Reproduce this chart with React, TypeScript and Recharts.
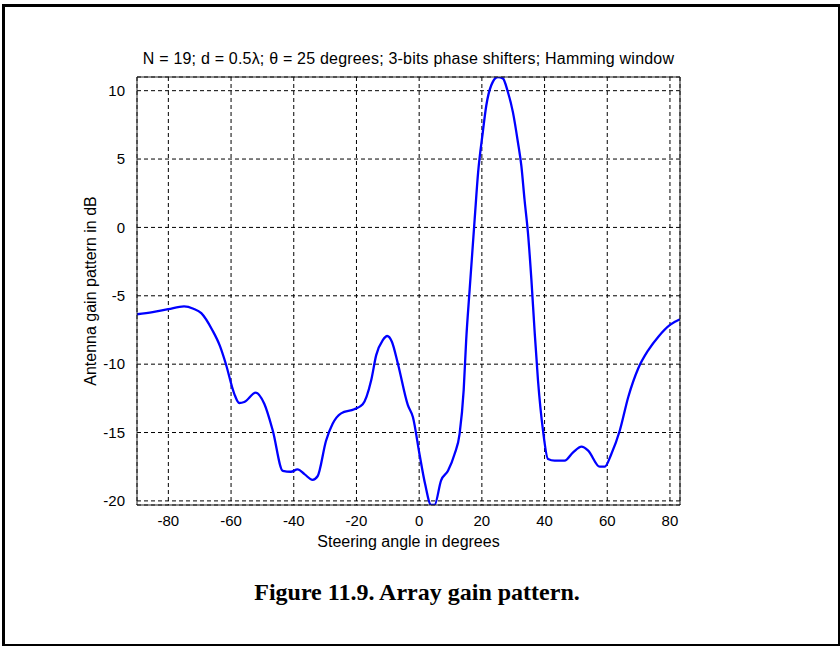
import { LineChart, Line, XAxis, YAxis, CartesianGrid } from 'recharts'

// steering angle (deg) and array gain (dB)
const angles = [
  -90, -85, -80, -75, -72, -69.5, -66, -63.5, -61.7, -59, -57.4, -55.8, -52.1,
  -49.4, -46.7, -43.5, -40.9, -38.8, -36.6, -34, -32.4, -29.7, -27.6, -24.9,
  -20.7, -18, -15.3, -13.7, -11.6, -10.2, -8.7, -6.8, -3.6, -2, 0.1, 1.9, 3.8,
  4.9, 7, 9.2, 11.3, 12.9, 14.2, 15, 16.1, 17.7, 18.8, 20.3, 21.4, 23, 25.1,
  26.7, 28.3, 29.9, 31.5, 32.6, 33.6, 34.7, 35.8, 36.8, 37.9, 39.5, 41.1, 43.2,
  46.4, 49.1, 51.8, 53.9, 57.6, 59.2, 61.3, 64, 66.7, 69.9, 73.1, 76.3, 80, 83.2,
]
const gains = [
  -6.35, -6.2, -5.98, -5.78, -5.95, -6.27, -7.5, -8.7, -9.95, -12.15, -12.84,
  -12.77, -12.08, -12.9, -14.85, -17.8, -17.87, -17.7, -18.04, -18.46, -18.2,
  -15.6, -14.36, -13.6, -13.3, -12.94, -11.18, -9.34, -8.24, -7.94, -8.36,
  -9.95, -13.0, -13.87, -16.57, -18.77, -20.3, -20.3, -18.5, -17.8, -16.57,
  -15.1, -11.9, -8.24, -4.56, 0.59, 4.0, 6.96, 8.9, 10.4, 11.0, 10.9, 9.9,
  8.43, 6.23, 4.5, 2.06, -0.39, -3.82, -7.5, -11.18, -14.85, -16.94, -17.06,
  -17.06, -16.45, -16.03, -16.32, -17.5, -17.5, -16.57, -14.85, -12.4, -10.3,
  -8.97, -7.99, -7.13, -6.72,
]
const xTicks = [-80, -60, -40, -20, 0, 20, 40, 60, 80]
const yTicks = [-20, -15, -10, -5, 0, 5, 10]

const xDomain: [number, number] = [-90, 83.2]
const yDomain: [number, number] = [-20.3, 11.0]

const data = angles.map((a, i) => ({ angle: a, gain: gains[i] }))

const FONT = 'Arial, "Liberation Sans", sans-serif'
const AXIS_COLOR = '#222'
const tickStyle = { fontSize: 15, fill: '#000', fontFamily: FONT }

export default function App() {
  return (
    <div
      style={{
        position: 'absolute',
        left: 0,
        top: 0,
        width: 840,
        height: 646,
        background: '#fff',
      }}
    >
      {/* figure frame */}
      <div
        style={{
          position: 'absolute',
          left: 2,
          top: 4,
          width: 838,
          height: 642,
          boxSizing: 'border-box',
          borderLeft: '3px solid #000',
          borderTop: '3px solid #000',
          borderRight: '2px solid #000',
          borderBottom: '2px solid #000',
        }}
      />
      <div
        style={{
          position: 'absolute',
          left: 137,
          width: 543,
          top: 49,
          textAlign: 'center',
          fontFamily: FONT,
          fontSize: 16,
          letterSpacing: 0.2,
          lineHeight: '20px',
          whiteSpace: 'nowrap',
        }}
      >
        N = 19; d = 0.5λ; θ = 25 degrees; 3-bits phase shifters; Hamming window
      </div>
      <LineChart
        width={840}
        height={646}
        data={data}
        margin={{ top: 77, right: 160, bottom: 111, left: 87 }}
        style={{ position: 'absolute', left: 0, top: 0 }}
      >
        <CartesianGrid stroke="#000" strokeDasharray="4 3" />
        <XAxis
          dataKey="angle"
          type="number"
          domain={xDomain}
          allowDataOverflow
          ticks={xTicks}
          height={30}
          tickSize={0}
          tickMargin={10}
          tick={tickStyle}
          stroke={AXIS_COLOR}
          label={{
            value: 'Steering angle in degrees',
            position: 'insideTop',
            offset: 31,
            style: { fontSize: 16, fill: '#000', fontFamily: FONT },
          }}
        />
        {/* inward ticks on bottom and top edges */}
        <XAxis
          xAxisId="bt"
          dataKey="angle"
          type="number"
          domain={xDomain}
          allowDataOverflow
          ticks={xTicks}
          height={6}
          mirror
          tick={false}
          tickSize={5}
          axisLine={false}
          stroke={AXIS_COLOR}
        />
        <XAxis
          xAxisId="top"
          orientation="top"
          dataKey="angle"
          type="number"
          domain={xDomain}
          allowDataOverflow
          ticks={xTicks}
          height={6}
          mirror
          tick={false}
          tickSize={5}
          stroke={AXIS_COLOR}
        />
        <YAxis
          type="number"
          domain={yDomain}
          allowDataOverflow
          ticks={yTicks}
          width={50}
          tickSize={0}
          tickMargin={12}
          tick={tickStyle}
          stroke={AXIS_COLOR}
          label={{
            value: 'Antenna gain pattern in dB',
            content: ({ viewBox }: any) => {
              const x = viewBox.x + viewBox.width - 47
              const y = viewBox.y + viewBox.height / 2
              return (
                <text
                  x={x}
                  y={y}
                  transform={`rotate(-90, ${x}, ${y})`}
                  textAnchor="middle"
                  dominantBaseline="central"
                  style={{ fontSize: 16, fill: '#000', fontFamily: FONT }}
                >
                  Antenna gain pattern in dB
                </text>
              )
            },
          }}
        />
        <YAxis
          yAxisId="lt"
          type="number"
          domain={yDomain}
          allowDataOverflow
          ticks={yTicks}
          width={6}
          mirror
          tick={false}
          tickSize={5}
          axisLine={false}
          stroke={AXIS_COLOR}
        />
        <YAxis
          yAxisId="right"
          orientation="right"
          type="number"
          domain={yDomain}
          allowDataOverflow
          ticks={yTicks}
          width={6}
          mirror
          tick={false}
          tickSize={5}
          stroke={AXIS_COLOR}
        />
        <Line
          dataKey="gain"
          type="monotone"
          stroke="#0000ff"
          strokeWidth={2.3}
          dot={false}
          isAnimationActive={false}
        />
      </LineChart>
      <div
        style={{
          position: 'absolute',
          left: 0,
          width: 834,
          top: 577,
          textAlign: 'center',
          fontFamily: '"Times New Roman", "Liberation Serif", serif',
          fontWeight: 'bold',
          fontSize: 24,
          lineHeight: '30px',
          whiteSpace: 'nowrap',
        }}
      >
        Figure 11.9. Array gain pattern.
      </div>
    </div>
  )
}
